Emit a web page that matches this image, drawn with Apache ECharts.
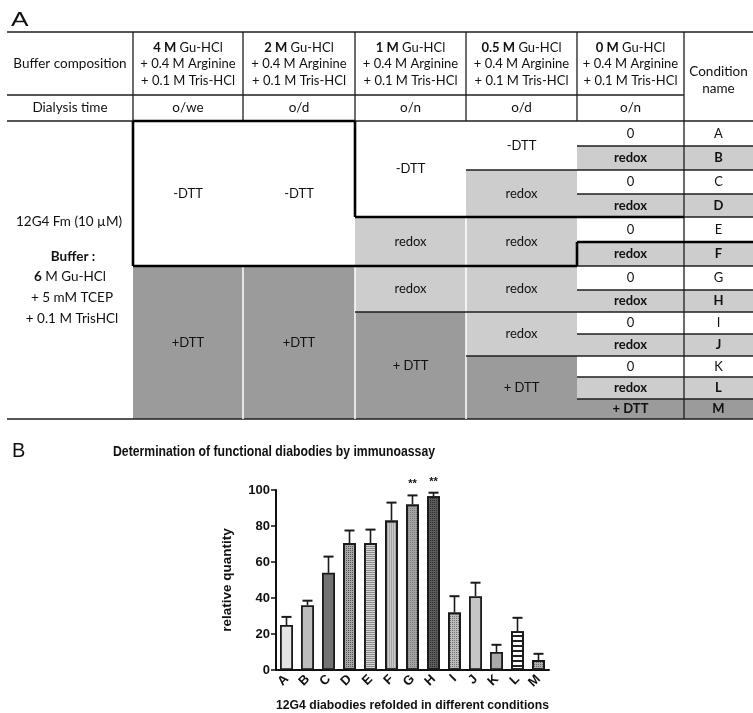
<!DOCTYPE html>
<html>
<head>
<meta charset="utf-8">
<script src="https://cdn.jsdelivr.net/npm/echarts@6/dist/echarts.min.js"></script>
<style>
html, body { margin: 0; padding: 0; background: #fff; }
#chart { width: 753px; height: 713px; }
</style>
</head>
<body>
<div id="chart"></div>
<script>
// --- bar chart data (panel B) ---
const categories = ['A', 'B', 'C', 'D', 'E', 'F', 'G', 'H', 'I', 'J', 'K', 'L', 'M'];
const quantity = [25, 36, 54, 70.5, 70.5, 83, 92, 96.5, 32, 41, 10, 21.5, 5.5];
const quantityErr = [4.5, 2.5, 9, 7, 7.5, 10, 5, 2, 9, 7.5, 4, 7.5, 3.5];
const signif = ['', '', '', '', '', '', '**', '**', '', '', '', '', ''];
const yTicks = [0, 20, 40, 60, 80, 100];

// --- table content (panel A) ---
const gdmConc = ['4 M', '2 M', '1 M', '0.5 M', '0 M'];
const dialysisTime = ['o/we', 'o/d', 'o/n', 'o/d', 'o/n'];
const lastStep = ['0', 'redox', '0', 'redox', '0', 'redox', '0', 'redox', '0', 'redox', '0', 'redox', '+ DTT'];
// merged cells of the 4 first dialysis steps: [step, first row, end row, text]
const stepCells = [
  [0, 0, 6, '-DTT'], [0, 6, 13, '+DTT'],
  [1, 0, 6, '-DTT'], [1, 6, 13, '+DTT'],
  [2, 0, 4, '-DTT'], [2, 4, 6, 'redox'], [2, 6, 8, 'redox'], [2, 8, 13, '+ DTT'],
  [3, 0, 2, '-DTT'], [3, 2, 4, 'redox'], [3, 4, 6, 'redox'], [3, 6, 8, 'redox'], [3, 8, 10, 'redox'], [3, 10, 13, '+ DTT']
];

// layout of the table
const colX = [7, 133, 243, 355, 466, 577, 684, 753];
const rowY = [121, 146, 170, 194, 217, 242, 266, 290, 312, 334, 356, 377, 399, 419];
const TFONT = 'Lato, "Open Sans", sans-serif';
const CFONT = '"Liberation Sans", Arial, sans-serif';
const LIGHT = '#cdcdcd', DARK = '#9b9b9b', INK = '#1e1e1e';

function fillFor(t) {
  if (t.indexOf('DTT') >= 0 && t[0] === '+') return DARK;
  if (t === 'redox') return LIGHT;
  return '#ffffff';
}

const rects = [], lines = [], texts = [];
function rect(x1, y1, x2, y2, fill) {
  rects.push({ type: 'rect', silent: true, shape: { x: x1, y: y1, width: x2 - x1, height: y2 - y1 }, style: { fill: fill } });
}
function line(x1, y1, x2, y2, w, color) {
  lines.push({ type: 'line', silent: true, shape: { x1: x1, y1: y1, x2: x2, y2: y2 }, style: { stroke: color || INK, lineWidth: w || 1.3 } });
}
function text(x, y, s, size, bold, extra) {
  const st = {
    text: s, fill: '#111', font: (bold ? 'bold ' : '') + size + 'px ' + TFONT,
    align: 'center', verticalAlign: 'middle', textAlign: 'center', textVerticalAlign: 'middle'
  };
  Object.assign(st, extra || {});
  texts.push({ type: 'text', silent: true, x: x, y: y, style: st });
}
const mid = (a, b) => (a + b) / 2;

// fills
stepCells.forEach(c => rect(colX[c[0] + 1], rowY[c[1]], colX[c[0] + 2], rowY[c[2]], fillFor(c[3])));
lastStep.forEach((t, r) => {
  rect(colX[5], rowY[r], colX[6], rowY[r + 1], fillFor(t));
  rect(colX[6], rowY[r], colX[7], rowY[r + 1], fillFor(t));
});

// header grid
line(colX[0], 32, colX[7], 32);
line(colX[0], 95, colX[6], 95);
line(colX[0], 121, colX[7], 121);
for (let c = 1; c <= 6; c++) line(colX[c], 32, colX[c], 121);
line(colX[6], 121, colX[6], 419);
line(colX[0], 419, colX[7], 419);

// white separators inside grey blocks
line(colX[2], 266, colX[2], 419, 1.5, '#fff');
line(colX[3], 266, colX[3], 419, 1.5, '#fff');
line(colX[4], 217, colX[4], 419, 1.5, '#fff');

// row lines
for (let r = 1; r < 13; r++) line(colX[5], rowY[r], colX[7], rowY[r]);
line(colX[4], rowY[2], colX[5], rowY[2]);
line(colX[3], rowY[8], colX[5], rowY[8]);
line(colX[4], rowY[10], colX[5], rowY[10]);

// thick outline around the no-reductant conditions
const TW = 2.6;
line(colX[1], 121, colX[3], 121, TW, '#000');
line(colX[3], 121, colX[3], rowY[4], TW, '#000');
line(colX[3], rowY[4], colX[6], rowY[4], TW, '#000');
line(colX[5], rowY[5], colX[7], rowY[5], TW, '#000');
line(colX[5], rowY[5], colX[5], rowY[6], TW, '#000');
line(colX[1], rowY[6], colX[5], rowY[6], TW, '#000');
line(colX[1], 121, colX[1], rowY[6], TW, '#000');

// header texts
text(70, 64, 'Buffer composition', 13.5, false);
text(70, 108, 'Dialysis time', 13.5, false);
gdmConc.forEach((g, i) => {
  const cx = mid(colX[i + 1], colX[i + 2]);
  text(cx, 64, '{b|' + g + '} Gu-HCl\n+ 0.4 M Arginine\n+ 0.1 M Tris-HCl', 13, false, {
    lineHeight: 16.5, rich: { b: { font: 'bold 13px ' + TFONT, lineHeight: 16.5 } }
  });
  text(cx, 108, dialysisTime[i], 13.5, false);
});
text(mid(colX[6], colX[7]), 80, 'Condition\nname', 13.5, false, { lineHeight: 16.5 });

// sample description
text(69, 222, '12G4 Fm (10 \u00b5M)', 13.5, false);
text(73, 257, 'Buffer :', 13.5, true);
text(70, 277, '{b|6} M Gu-HCl', 13.5, false, { rich: { b: { font: 'bold 13.5px ' + TFONT } } });
text(72, 298, '+ 5 mM TCEP', 13.5, false);
text(72, 319, '+ 0.1 M TrisHCl', 13.5, false);

// body texts
stepCells.forEach(c => text(mid(colX[c[0] + 1], colX[c[0] + 2]), mid(rowY[c[1]], rowY[c[2]]), c[3], 13, false));
lastStep.forEach((t, r) => {
  const cy = mid(rowY[r], rowY[r + 1]);
  const bold = t !== '0';
  text(mid(colX[5], colX[6]), cy, t, 13, bold);
  text(mid(colX[6], colX[7]), cy, categories[r], 13, bold);
});

// panel letters and chart title
texts.push({ type: 'text', silent: true, x: 11, y: 20, scaleX: 1.25, style: { text: 'A', font: '21px ' + CFONT, fill: '#111', verticalAlign: 'middle', textVerticalAlign: 'middle' } });
texts.push({ type: 'text', silent: true, x: 12, y: 451, style: { text: 'B', font: '20px ' + CFONT, fill: '#111', verticalAlign: 'middle', textVerticalAlign: 'middle' } });
texts.push({ type: 'text', silent: true, x: 274, y: 452, scaleX: 0.815, style: {
  text: 'Determination of functional diabodies by immunoassay',
  font: 'bold 15px ' + CFONT, fill: '#111',
  align: 'center', verticalAlign: 'middle', textAlign: 'center', textVerticalAlign: 'middle'
} });

// bar fills
const dots = (c, s) => ({ symbol: 'rect', symbolSize: 1, dashArrayX: [s || 1, s || 1], dashArrayY: [s || 1, s || 1], color: c });
const hlines = (c, on, off) => ({ symbol: 'rect', symbolSize: 1, dashArrayX: [1, 0], dashArrayY: [on, off], color: c });
const barStyles = [
  { color: '#e3e3e3' },
  { color: '#bdbdbd' },
  { color: '#737373' },
  { color: '#a8a8a8', decal: dots('#555') },
  { color: '#d4d4d4', decal: hlines('#8c8c8c', 1, 1) },
  { color: '#cacaca', decal: Object.assign(hlines('#a5a5a5', 1, 1), { rotation: Math.PI / 2 }) },
  { color: '#a3a3a3', decal: dots('#7a7a7a') },
  { color: '#5c5c5c', decal: dots('#2f2f2f') },
  { color: '#bcbcbc', decal: dots('#707070') },
  { color: '#c6c6c6' },
  { color: '#a9a9a9' },
  { color: '#ffffff', decal: hlines('#222', 1.5, 2.5) },
  { color: '#b0b0b0', decal: dots('#6a6a6a') }
];

const chart = echarts.init(document.getElementById('chart'));
chart.setOption({
  animation: false,
  backgroundColor: '#fff',
  textStyle: { fontFamily: CFONT },
  grid: { left: 276, top: 490, width: 273, height: 183 },
  xAxis: {
    type: 'category',
    data: categories,
    axisLine: { lineStyle: { color: '#111', width: 2 } },
    axisTick: { alignWithLabel: true, length: 5, lineStyle: { color: '#111', width: 1.5 } },
    axisLabel: { rotate: 45, fontWeight: 'bold', fontSize: 13, color: '#111', margin: 7 },
    name: '12G4 diabodies refolded in different conditions',
    nameLocation: 'middle',
    nameGap: 30,
    nameTextStyle: { fontWeight: 'bold', fontSize: 12.2, color: '#111' }
  },
  yAxis: {
    type: 'value',
    min: yTicks[0],
    max: yTicks[yTicks.length - 1],
    interval: yTicks[1] - yTicks[0],
    axisLine: { show: true, lineStyle: { color: '#111', width: 2 } },
    axisTick: { show: true, length: 5, lineStyle: { color: '#111', width: 1.5 } },
    splitLine: { show: false },
    axisLabel: { fontWeight: 'bold', fontSize: 13, color: '#111', margin: 6 },
    name: 'relative quantity',
    nameLocation: 'middle',
    nameRotate: 90,
    nameGap: 42,
    nameTextStyle: { fontWeight: 'bold', fontSize: 13.5, color: '#111' }
  },
  series: [
    {
      type: 'bar',
      barWidth: 13,
      data: quantity.map((v, i) => ({
        value: v,
        itemStyle: Object.assign({ borderColor: '#1a1a1a', borderWidth: 1.8 }, barStyles[i])
      }))
    },
    {
      type: 'custom',
      z: 5,
      data: quantity.map((v, i) => [i, v, quantityErr[i]]),
      renderItem: function (params, api) {
        const i = api.value(0), v = api.value(1), e = api.value(2);
        const b = api.coord([i, v]);
        const t = api.coord([i, v + e]);
        const kids = [
          { type: 'line', shape: { x1: b[0], y1: b[1], x2: t[0], y2: t[1] }, style: { stroke: '#1a1a1a', lineWidth: 1.6 } },
          { type: 'line', shape: { x1: t[0] - 5, y1: t[1], x2: t[0] + 5, y2: t[1] }, style: { stroke: '#1a1a1a', lineWidth: 2 } }
        ];
        const s = signif[params.dataIndex];
        if (s) {
          kids.push({ type: 'text', x: t[0], y: t[1] - 11, style: {
            text: s, font: 'bold 11px ' + CFONT, fill: '#111',
            align: 'center', verticalAlign: 'middle', textAlign: 'center', textVerticalAlign: 'middle'
          } });
        }
        return { type: 'group', children: kids };
      }
    }
  ],
  graphic: { elements: rects.concat(lines, texts) }
});
</script>
</body>
</html>
